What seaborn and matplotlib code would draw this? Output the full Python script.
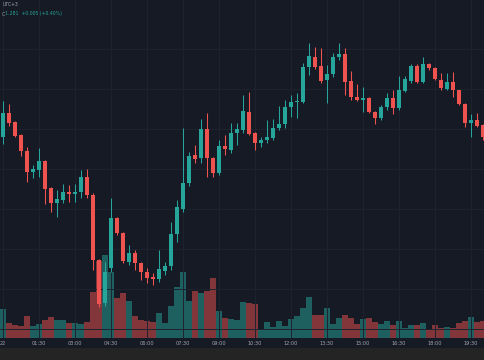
import pandas as pd
import matplotlib
matplotlib.use("Agg")
import matplotlib.pyplot as plt
import seaborn as sns
from matplotlib.patches import Rectangle

# -----------------------------
# Data (15 min candles)
# -----------------------------
opens = [1.2763, 1.2787, 1.2778, 1.2765, 1.2749, 1.2728, 1.2730, 1.2739, 1.2712, 1.2697,
         1.2700, 1.2708, 1.2706, 1.2708, 1.2723, 1.2705, 1.2640, 1.2597, 1.2632, 1.2682,
         1.2667, 1.2638, 1.2647, 1.2637, 1.2628, 1.2623, 1.2621, 1.2629, 1.2634, 1.2666,
         1.2691, 1.2717, 1.2745, 1.2742, 1.2771, 1.2742, 1.2727, 1.2754, 1.2750, 1.2767,
         1.2770, 1.2788, 1.2767, 1.2757, 1.2760, 1.2762, 1.2772, 1.2776, 1.2793, 1.2798,
         1.2798, 1.2833, 1.2843, 1.2834, 1.2820, 1.2826, 1.2843, 1.2846, 1.2819, 1.2803,
         1.2800, 1.2802, 1.2788, 1.2782, 1.2793, 1.2802, 1.2792, 1.2809, 1.2819, 1.2834,
         1.2818, 1.2836, 1.2832, 1.2820, 1.2811, 1.2818, 1.2810, 1.2796, 1.2777, 1.2780,
         1.2775]
highs = [1.2799, 1.2796, 1.2779, 1.2766, 1.2753, 1.2735, 1.2752, 1.2740, 1.2713, 1.2710,
         1.2716, 1.2715, 1.2716, 1.2730, 1.2731, 1.2707, 1.2641, 1.2638, 1.2702, 1.2683,
         1.2668, 1.2655, 1.2650, 1.2638, 1.2632, 1.2627, 1.2650, 1.2638, 1.2678, 1.2700,
         1.2772, 1.2748, 1.2755, 1.2781, 1.2787, 1.2743, 1.2760, 1.2765, 1.2777, 1.2777,
         1.2805, 1.2808, 1.2768, 1.2763, 1.2780, 1.2781, 1.2794, 1.2800, 1.2805, 1.2807,
         1.2837, 1.2857, 1.2853, 1.2852, 1.2835, 1.2847, 1.2857, 1.2852, 1.2829, 1.2816,
         1.2813, 1.2803, 1.2789, 1.2795, 1.2807, 1.2810, 1.2824, 1.2824, 1.2836, 1.2836,
         1.2843, 1.2837, 1.2833, 1.2827, 1.2827, 1.2828, 1.2810, 1.2797, 1.2786, 1.2787,
         1.2776]
lows = [1.2756, 1.2774, 1.2763, 1.2744, 1.2718, 1.2722, 1.2723, 1.2696, 1.2688, 1.2683,
        1.2697, 1.2698, 1.2698, 1.2702, 1.2702, 1.2630, 1.2593, 1.2594, 1.2628, 1.2665,
        1.2637, 1.2635, 1.2630, 1.2620, 1.2617, 1.2615, 1.2618, 1.2625, 1.2630, 1.2658,
        1.2688, 1.2714, 1.2737, 1.2737, 1.2723, 1.2723, 1.2725, 1.2745, 1.2747, 1.2755,
        1.2767, 1.2765, 1.2750, 1.2753, 1.2757, 1.2760, 1.2770, 1.2772, 1.2783, 1.2782,
        1.2797, 1.2825, 1.2831, 1.2817, 1.2797, 1.2823, 1.2840, 1.2805, 1.2800, 1.2799,
        1.2788, 1.2787, 1.2776, 1.2780, 1.2790, 1.2786, 1.2790, 1.2808, 1.2817, 1.2817,
        1.2817, 1.2830, 1.2820, 1.2810, 1.2810, 1.2803, 1.2795, 1.2773, 1.2763, 1.2773,
        1.2760]
closes = [1.2787, 1.2777, 1.2764, 1.2749, 1.2728, 1.2731, 1.2739, 1.2711, 1.2697, 1.2701,
          1.2708, 1.2706, 1.2708, 1.2723, 1.2705, 1.2640, 1.2596, 1.2628, 1.2682, 1.2667,
          1.2639, 1.2647, 1.2637, 1.2628, 1.2622, 1.2621, 1.2631, 1.2634, 1.2666, 1.2693,
          1.2717, 1.2744, 1.2741, 1.2771, 1.2742, 1.2727, 1.2754, 1.2751, 1.2767, 1.2771,
          1.2789, 1.2766, 1.2757, 1.2760, 1.2763, 1.2772, 1.2776, 1.2793, 1.2798, 1.2799,
          1.2833, 1.2844, 1.2833, 1.2819, 1.2826, 1.2843, 1.2846, 1.2818, 1.2803, 1.2800,
          1.2802, 1.2788, 1.2782, 1.2793, 1.2802, 1.2792, 1.2810, 1.2821, 1.2834, 1.2818,
          1.2836, 1.2832, 1.2821, 1.2812, 1.2818, 1.2810, 1.2796, 1.2777, 1.2780, 1.2774,
          1.2763]
volumes = [29, 15, 13, 12, 22, 12, 14, 18, 21, 18,
           18, 15, 15, 14, 16, 46, 77, 83, 66, 40,
           45, 37, 22, 18, 17, 16, 25, 15, 32, 51,
           66, 37, 47, 45, 47, 60, 27, 20, 19, 18,
           36, 35, 34, 9, 16, 11, 17, 12, 19, 22,
           30, 41, 23, 23, 30, 14, 20, 23, 20, 14,
           19, 20, 16, 14, 17, 13, 17, 10, 13, 13,
           15, 9, 13, 10, 11, 10, 15, 17, 21, 16,
           17]
tick_labels = ["22", "01:30", "03:00", "04:30", "06:00", "07:30", "09:00",
               "10:30", "12:00", "13:30", "15:00", "16:30", "18:00", "19:30"]

df = pd.DataFrame({"bar": range(len(opens)), "open": opens, "high": highs,
                   "low": lows, "close": closes, "volume": volumes})
df["dir"] = ["up" if c >= o else "down" for o, c in zip(df["open"], df["close"])]

# -----------------------------
# Style
# -----------------------------
BG = "#161a25"
UP = "#26a69a"
DOWN = "#ef5350"
GRID = "#1f2330"
TXT = "#a3a6af"

sns.set_theme(style="dark", rc={"axes.facecolor": BG, "figure.facecolor": BG})
plt.rcParams["font.family"] = ["DejaVu Sans"]

fig = plt.figure(figsize=(4.85, 3.6), dpi=100, facecolor=BG)
fig.patches.append(Rectangle((0, 0), 1, 12 / 360, transform=fig.transFigure,
                             color="#242424", zorder=0))

ax = fig.add_axes([0, 22 / 360, 1, 338 / 360])
axv = ax.twinx()
axv.set_zorder(0)
ax.set_zorder(1)
ax.patch.set_visible(False)
axv.patch.set_visible(True)
axv.patch.set_facecolor(BG)

# -----------------------------
# Volume
# -----------------------------
sns.barplot(data=df, x="bar", y="volume", hue="dir",
            palette={"up": UP, "down": DOWN}, native_scale=True, dodge=False,
            width=0.85, alpha=0.5, saturation=1, errorbar=None, legend=False,
            linewidth=0, ax=axv)
axv.set_ylim(0, 338)
axv.set_yticks([])
axv.set_ylabel("")
axv.set_xlabel("")

# -----------------------------
# Candles
# -----------------------------
colors = [UP if d == "up" else DOWN for d in df["dir"]]
body_low = df[["open", "close"]].min(axis=1)
body_h = (df["close"] - df["open"]).abs().clip(lower=0.00012)
ax.vlines(df["bar"], df["low"], df["high"], colors=colors, linewidth=0.75, zorder=2)
ax.bar(df["bar"], body_h, bottom=body_low, width=0.8, color=colors, linewidth=0, zorder=3)

ax.set_ylim(1.2562, 1.2900)
ax.set_xlim(-0.5, -0.5 + 485 / 6)
axv.set_xlim(-0.5, -0.5 + 485 / 6)

ax.set_yticks([1.2851, 1.2811, 1.2771, 1.2731, 1.2691, 1.2651, 1.2611, 1.2571])
ax.set_yticklabels([])
ax.set_xticks(range(0, 6 * len(tick_labels), 6))
ax.set_xticklabels(tick_labels, color=TXT, fontsize=3.6)
ax.tick_params(axis="x", length=0, pad=2.2)
ax.tick_params(axis="y", length=0)
ax.grid(True, color=GRID, linewidth=0.7, zorder=0)
axv.grid(False)
for a in (ax, axv):
    for s in a.spines.values():
        s.set_visible(False)

# -----------------------------
# Header text
# -----------------------------
fig.text(3 / 485, 1 - 5 / 360, "UTC+3", color=TXT, fontsize=3.3, va="center")
fig.text(2 / 485, 1 - 14 / 360, "C", color=TXT, fontsize=3.3, va="center")
fig.text(5 / 485, 1 - 14 / 360, "1.281  +0.005 (+0.40%)", color=UP, fontsize=3.3,
         va="center")

fig.savefig("out.png", dpi=100, facecolor=BG)
